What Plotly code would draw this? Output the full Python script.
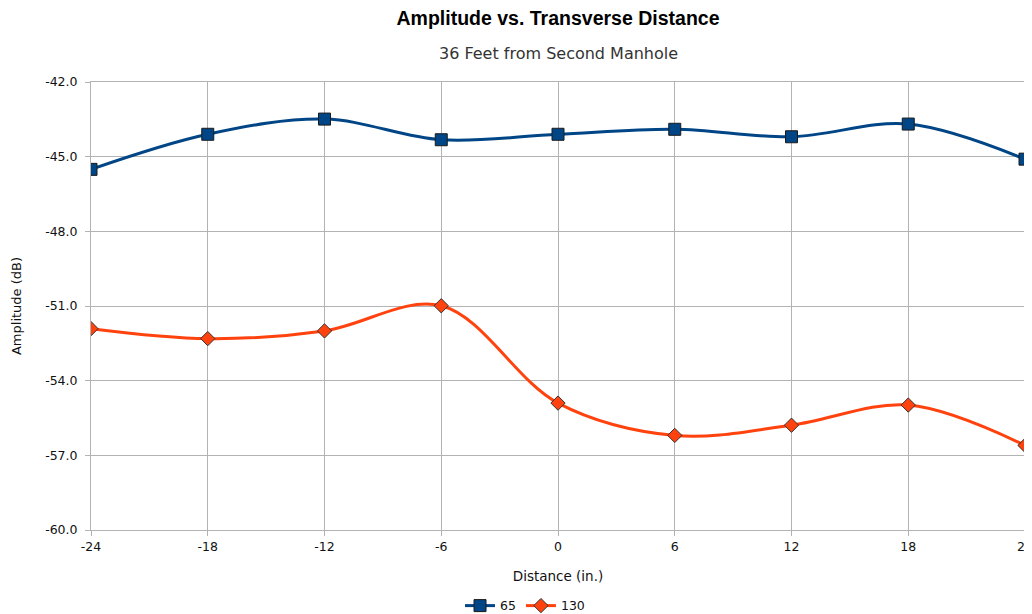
import plotly.graph_objects as go

# Data
distance = [-24, -18, -12, -6, 0, 6, 12, 18, 24]
amp_65 = [-45.51, -44.10, -43.49, -44.32, -44.10, -43.90, -44.20, -43.69, -45.10]
amp_130 = [-51.91, -52.31, -52.00, -50.99, -54.90, -56.20, -55.79, -54.98, -56.60]
y_ticks = [-60, -57, -54, -51, -48, -45, -42]

title_font = "Liberation Sans, Arial, sans-serif"
text_font = "DejaVu Sans, Verdana, sans-serif"

fig = go.Figure()

fig.add_trace(go.Scatter(
    x=distance, y=amp_65, name="65", mode="lines+markers",
    line=dict(color="#004586", width=3, shape="spline", smoothing=1.0),
    marker=dict(symbol="square", size=12, color="#004586",
                line=dict(color="#1a1a1a", width=1)),
))
fig.add_trace(go.Scatter(
    x=distance, y=amp_130, name="130", mode="lines+markers",
    line=dict(color="#ff420e", width=3, shape="spline", smoothing=1.0),
    marker=dict(symbol="diamond", size=11, color="#ff420e",
                line=dict(color="#333333", width=1)),
))

# page body adds an 8px offset, so margins are shifted up/left by that much
W, H = 1024, 620
fig.update_layout(
    width=W, height=H,
    paper_bgcolor="white", plot_bgcolor="white",
    margin=dict(l=83, r=7, t=74, b=98),
    font=dict(family=text_font, size=12.5, color="#111111"),
    title=dict(text="<b>Amplitude vs. Transverse Distance</b>",
               x=0.5, xref="paper", xanchor="center",
               y=1 - 10 / H, yref="container", yanchor="middle",
               font=dict(family=title_font, size=19.5, color="#000000")),
    showlegend=True,
    legend=dict(orientation="h", x=0.4647, xanchor="center", y=-0.1696, yanchor="middle",
                font=dict(size=12.5), itemwidth=30, tracegroupgap=0),
    annotations=[dict(text="36 Feet from Second Manhole", x=0.5, xref="paper",
                      y=1.0647, yref="paper", yanchor="middle", showarrow=False,
                      font=dict(family=text_font, size=16, color="#333333"))],
)

fig.update_xaxes(
    range=[-24, 24], tickvals=distance, ticktext=[str(d) for d in distance],
    showgrid=True, gridcolor="#b3b3b3", gridwidth=1,
    showline=True, linecolor="#b3b3b3", linewidth=1, mirror=True,
    ticks="outside", ticklen=5, tickcolor="#b3b3b3",
    ticklabeloverflow="allow",
    zeroline=False, automargin=False,
    title=dict(text="Distance (in.)", font=dict(size=13.5), standoff=18),
    tickfont=dict(size=12.5),
)
fig.update_yaxes(
    range=[-60, -42], tickvals=y_ticks, ticktext=[f"{v:.1f}" for v in y_ticks],
    showgrid=True, gridcolor="#b3b3b3", gridwidth=1,
    showline=True, linecolor="#b3b3b3", linewidth=1, mirror=True,
    ticks="outside", ticklen=5, tickcolor="#b3b3b3", ticklabelstandoff=5,
    zeroline=False,
    title=dict(text="Amplitude (dB)", font=dict(size=13), standoff=20),
    tickfont=dict(size=12.5),
)

fig.write_html("out.html")
